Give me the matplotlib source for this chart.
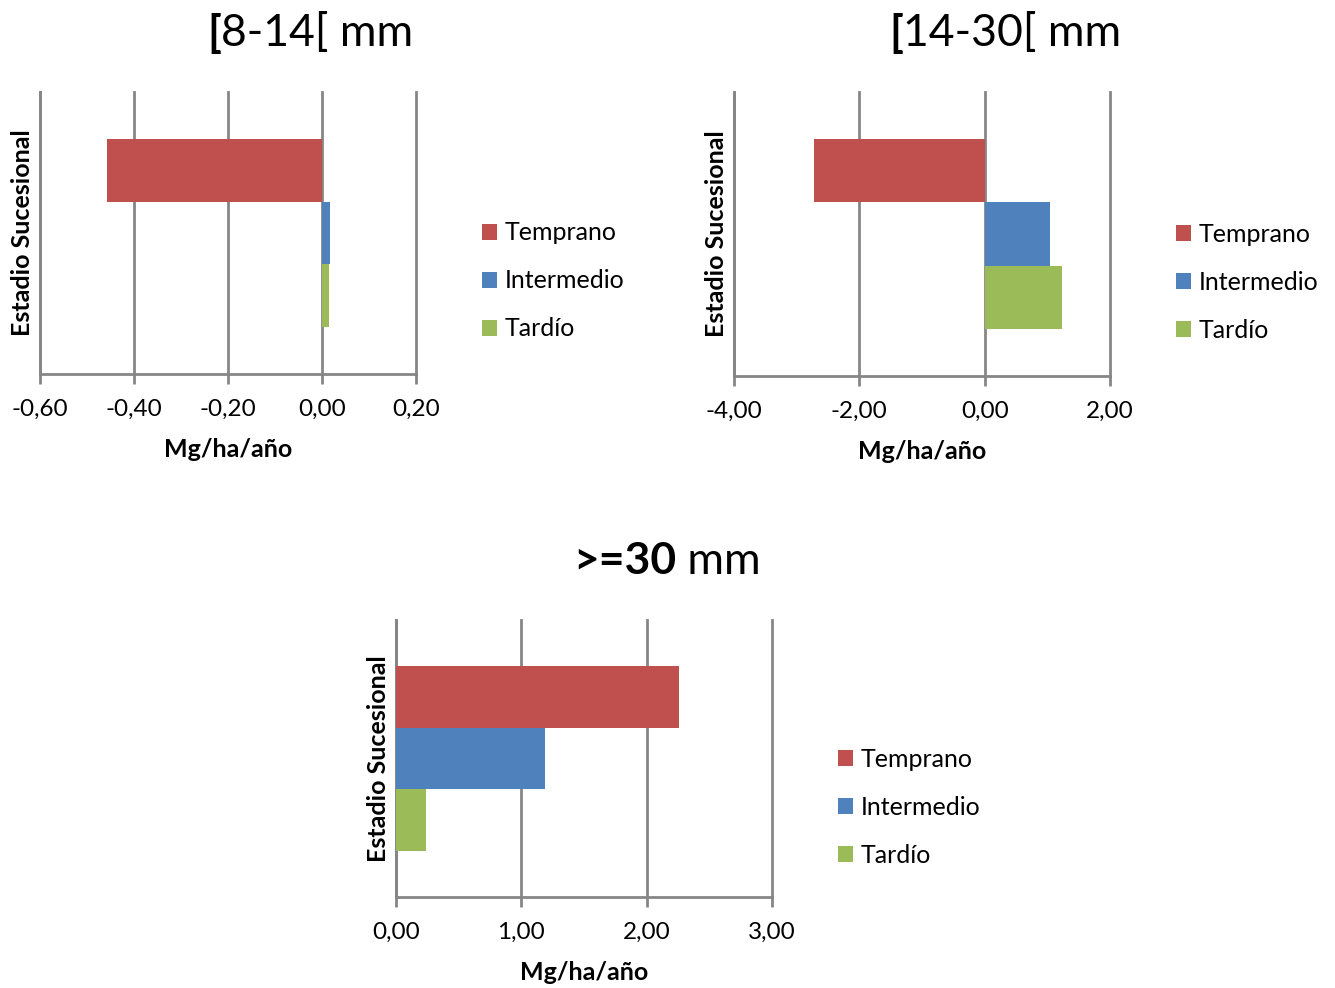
import matplotlib
matplotlib.use("Agg")
import matplotlib.pyplot as plt
from matplotlib.patches import Patch
from matplotlib.ticker import FuncFormatter

plt.rcParams['font.family'] = ['Lato', 'DejaVu Sans']

series = ["Temprano", "Intermedio", "Tardío"]
colors = ["#C0504D", "#4F81BD", "#9BBB59"]

vals_8_14 = [-0.457, 0.017, 0.015]
vals_14_30 = [-2.73, 1.05, 1.23]
vals_30 = [2.26, 1.19, 0.24]

ticks_8_14 = [-0.6, -0.4, -0.2, 0.0, 0.2]
ticks_14_30 = [-4.0, -2.0, 0.0, 2.0]
ticks_30 = [0.0, 1.0, 2.0, 3.0]

W, H = 1335, 988
fig = plt.figure(figsize=(W / 100, H / 100), dpi=100)
GRID = "#868686"

def fmt(v, pos):
    s = f"{v:.2f}".replace(".", ",")
    if s.startswith("-0,00"):
        s = "0,00"
    return s

def make(rect_px, vals, ticks, leg_px):
    l, t, r, b = rect_px
    ax = fig.add_axes([l / W, (H - b) / H, (r - l) / W, (b - t) / H])
    h = 0.222
    offs = [h, 0.0, -h]
    for v, o, c, s in zip(vals, offs, colors, series):
        ax.barh(o, v, height=h, color=c, label=s, zorder=3)
    ax.set_xlim(ticks[0], ticks[-1])
    ax.set_ylim(-0.5, 0.5)
    ax.set_xticks(ticks)
    ax.xaxis.set_major_formatter(FuncFormatter(fmt))
    ax.set_yticks([])
    ax.grid(axis='x', color=GRID, linewidth=2, zorder=0)
    for gl in ax.get_xgridlines():
        gl.set_clip_on(False)
    for sp in ['top', 'right']:
        ax.spines[sp].set_visible(False)
    for sp in ['left', 'bottom']:
        ax.spines[sp].set_color(GRID)
        ax.spines[sp].set_linewidth(2)
    ax.tick_params(axis='x', direction='out', length=7, width=2, color=GRID,
                   labelsize=17.5, pad=11)
    ax.set_xlabel("Mg/ha/año", fontsize=18, fontweight='bold', labelpad=13)
    ax.set_ylabel("Estadio Sucesional", fontsize=18, fontweight='bold', labelpad=4)
    handles = [Patch(facecolor=c, edgecolor='none') for c in colors]
    lx, ly = leg_px
    ax.legend(handles, series, loc='center left', bbox_to_anchor=(lx / W, 1 - ly / H),
              bbox_transform=fig.transFigure, frameon=False, fontsize=18,
              handlelength=0.6, handleheight=0.6, handletextpad=0.3,
              labelspacing=1.0, borderpad=0, borderaxespad=0)
    return ax

make((40, 92, 416, 374), vals_8_14, ticks_8_14, (482, 281))
make((734, 92, 1110, 376), vals_14_30, ticks_14_30, (1176, 282))
make((396, 620, 772, 897), vals_30, ticks_30, (838, 807))

renderer = fig.canvas.get_renderer()

def title(parts, cx, cy, size=32):
    texts = []
    for txt, bold in parts:
        t = fig.text(0, 1 - cy / H, txt, fontsize=size,
                     fontweight='bold' if bold else 'normal', va='center', ha='left')
        texts.append(t)
    widths = [t.get_window_extent(renderer).width for t in texts]
    total = sum(widths)
    x = cx - total / 2
    for t, w in zip(texts, widths):
        t.set_x(x / W)
        x += w

title([("[", True), ("8-14[ mm", False)], 310, 33)
title([("[", True), ("14-30[ mm", False)], 1005, 33)
title([(">=30", True), (" mm", False)], 667, 561)

fig.savefig("out.png", dpi=100)
